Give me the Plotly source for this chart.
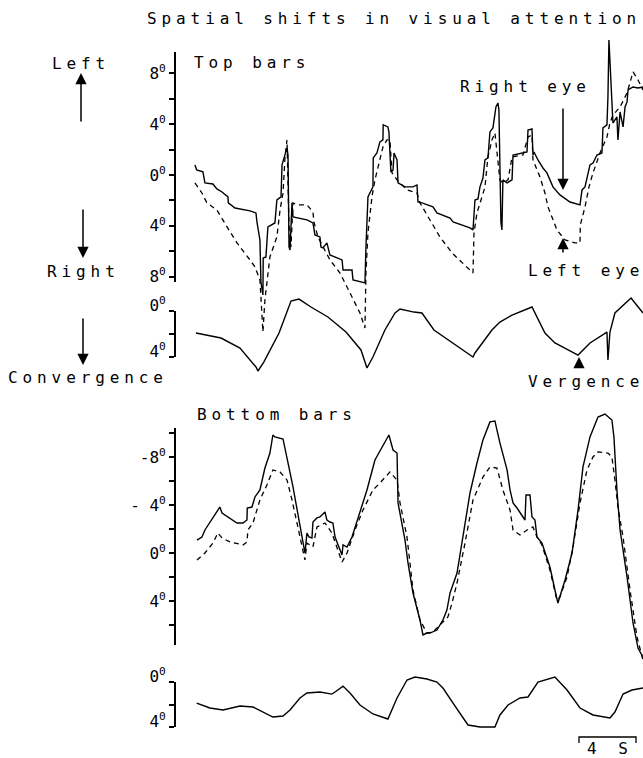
import plotly.graph_objects as go

# ---------------- data (time in s, angle in degrees) ----------------
# Top bars: horizontal eye position (+ = left)
top_right_t = [0.21,0.33,0.77,0.91,1.47,1.75,2.11,2.53,2.55,3.02,4.07,4.49,4.56,4.77,4.84,4.98,5.00,5.19,5.33,5.82,5.96,6.25,6.32,6.53,6.67,6.74,6.81,6.88,7.02,7.09,8.07,8.49,8.63,8.98,9.05,9.19,9.47,9.68,10.53,10.60,11.23,11.30,12.14,12.21,12.28,12.35,12.70,12.72,12.98,13.19,13.40,13.42,13.75,13.82,13.96,14.11,14.18,14.39,14.46,14.95,15.51,15.79,15.86,16.14,16.91,17.19,18.11,18.32,19.51,19.72,19.86,20.07,20.21,20.42,20.56,20.77,20.91,21.12,21.33,21.47,21.54,21.68,21.75,21.82,22.11,22.46,22.53,23.23,23.51,23.58,23.86,23.93,24.00,24.28,24.63,24.91,25.12,25.33,25.82,26.53,27.23,27.37,27.58,27.93,28.14,28.42,28.77,28.84,29.12,29.19,29.26,29.40,29.54,29.82,29.89,30.04,30.25,30.39,30.53,30.60,30.95,31.30,31.65]
top_right = [0.79,0.39,0.24,-0.63,-0.71,-1.10,-1.34,-1.73,-2.20,-2.60,-2.83,-2.99,-3.70,-5.12,-8.43,-9.45,-6.54,-6.46,-4.09,-3.78,-1.97,-1.73,0.79,1.57,2.13,1.57,-5.67,-5.91,-2.20,-3.31,-3.54,-3.78,-4.72,-4.88,-5.67,-5.75,-5.35,-6.30,-6.69,-7.48,-7.48,-8.27,-8.50,-5.67,-3.70,-1.73,-0.94,1.34,1.73,2.60,2.76,3.94,3.78,3.39,0.24,0.39,1.73,1.18,-0.63,-0.94,-0.94,-0.79,-2.13,-2.20,-2.52,-2.99,-3.39,-3.70,-4.17,-4.33,-1.97,-1.89,-0.94,-0.24,1.18,1.34,3.39,3.70,5.35,5.67,5.12,-3.70,-4.33,-0.39,-0.63,-0.39,1.57,1.73,1.81,3.54,3.62,1.57,1.81,1.18,0.55,0.16,-0.39,-0.94,-1.57,-2.13,-2.36,-1.18,-0.94,0.79,0.94,1.57,1.73,3.70,3.94,6.14,10.63,7.24,4.09,4.57,2.76,4.96,3.78,5.35,5.75,6.69,6.93,6.85,6.93]

top_left_t = [0.21,0.70,1.05,1.75,2.46,3.16,4.07,4.42,4.77,4.98,5.12,5.47,5.96,6.18,6.39,6.53,6.67,6.81,6.95,7.09,7.37,8.07,8.49,8.56,8.84,9.19,9.68,10.39,11.09,11.79,12.14,12.21,12.35,12.63,12.84,13.19,13.40,13.68,13.89,14.04,14.39,15.09,15.79,16.00,16.70,17.40,18.25,19.02,19.72,19.79,20.00,20.35,20.56,20.77,21.05,21.26,21.47,21.61,21.82,22.18,22.46,23.23,23.58,23.86,23.93,24.42,24.77,24.98,25.26,25.61,26.18,26.88,27.23,27.25,27.58,27.86,28.14,28.63,29.12,29.33,29.54,30.04,30.53,30.95,31.30,31.65]
top_left = [-0.63,-1.42,-2.20,-2.76,-4.09,-5.35,-6.69,-7.24,-8.27,-12.36,-9.84,-6.46,-4.88,-2.76,-1.42,1.42,2.76,-4.09,-5.67,-2.20,-2.36,-2.36,-2.91,-3.70,-4.88,-5.67,-6.69,-7.72,-9.29,-10.87,-12.05,-7.72,-4.57,-1.73,-0.39,1.18,2.20,2.76,2.76,0.16,-0.39,-1.18,-1.42,-2.20,-3.54,-4.88,-6.14,-6.93,-7.72,-4.57,-2.99,-1.73,-0.94,1.42,2.76,3.31,1.18,-0.39,-0.63,-0.39,1.42,1.57,2.99,3.15,1.18,-0.16,-1.42,-2.52,-3.31,-4.33,-5.12,-5.35,-5.35,-3.94,-2.52,-0.94,0.16,1.73,2.99,4.09,4.72,5.35,6.46,8.11,7.48,6.69]

# Top bars: vergence (+ = convergence)
top_verg_t = [0.28,2.04,3.37,4.49,4.63,5.05,6.11,6.81,6.95,7.51,8.35,9.54,10.81,11.86,12.28,12.70,13.54,14.25,14.60,15.58,16.14,16.98,18.18,19.72,19.86,21.05,21.61,22.46,23.86,24.77,25.47,27.09,27.93,29.12,29.19,29.33,29.68,30.53,30.81,31.65]
top_verg = [1.91,2.35,3.22,4.87,5.22,4.43,1.91,-0.52,-0.87,-1.04,-0.35,0.52,1.83,3.39,4.96,4.00,1.65,0.17,-0.17,0.09,0.17,1.65,2.70,4.00,3.65,1.65,0.96,0.35,-0.35,1.91,2.78,3.83,2.78,1.83,4.26,1.83,0.17,-0.78,-1.13,0.17]

# Bottom bars: horizontal eye position (- = left)
bot_right_t = [0.35,0.70,0.91,1.47,1.96,2.11,2.67,3.16,3.58,3.86,3.88,4.21,4.42,4.77,5.12,5.47,5.68,5.82,6.39,6.53,6.74,7.09,7.44,7.79,7.93,8.07,8.21,8.42,8.49,8.77,8.98,9.33,9.47,9.68,9.89,10.04,10.53,10.60,10.88,11.23,11.79,12.28,12.84,13.40,13.82,14.11,14.39,14.46,14.95,15.16,15.51,16.00,16.21,16.49,16.70,17.19,17.61,17.89,18.11,18.60,19.02,19.51,20.00,20.42,20.91,21.26,21.40,21.61,22.11,22.32,22.53,22.81,23.37,23.44,23.72,23.86,24.07,24.21,24.56,25.12,25.47,25.68,25.96,26.18,26.67,27.09,27.44,27.93,28.49,28.98,29.47,29.61,29.82,30.04,30.53,30.95,31.30,31.65]
bot_right = [-1.08,-1.33,-1.92,-3.00,-3.83,-3.33,-2.92,-2.50,-2.50,-2.75,-3.75,-3.83,-4.67,-5.25,-7.08,-8.33,-9.83,-9.67,-9.50,-8.58,-7.50,-5.50,-3.33,-1.08,0.00,-1.67,-1.33,-1.25,-2.58,-2.92,-3.00,-3.42,-2.75,-2.58,-2.50,-1.33,0.17,-0.67,-0.50,-1.33,-3.33,-5.25,-7.75,-9.00,-9.83,-8.58,-8.33,-4.17,-1.08,0.83,3.33,5.58,6.83,6.67,6.67,6.42,5.58,4.75,3.33,1.67,-1.33,-5.00,-7.50,-9.42,-10.92,-11.00,-10.25,-9.17,-6.92,-5.25,-4.17,-3.75,-2.75,-4.83,-4.83,-3.00,-2.75,-1.33,-0.83,1.17,3.08,4.17,3.08,2.25,0.00,-3.58,-7.17,-9.67,-11.33,-11.58,-11.08,-9.67,-5.25,-1.92,2.00,5.83,7.92,8.67]

bot_left_t = [0.35,0.91,1.47,1.82,2.11,2.67,3.58,3.86,3.93,4.28,4.77,5.26,5.68,6.18,6.67,7.02,7.37,7.72,7.93,8.07,8.49,8.77,9.33,9.82,10.18,10.53,10.88,11.44,12.00,12.70,13.19,13.89,14.39,14.60,15.09,15.51,16.00,16.49,16.91,17.40,17.96,18.25,18.60,19.16,19.72,20.42,20.91,21.40,21.82,22.32,22.53,23.02,23.51,23.93,24.21,24.56,25.12,25.61,25.82,26.32,26.74,27.23,27.72,28.14,28.49,29.19,29.47,29.68,29.89,30.25,30.74,31.23,31.65]
bot_left = [0.58,0.00,-0.83,-1.67,-1.25,-0.92,-0.67,-0.92,-1.92,-2.50,-4.42,-5.67,-6.92,-6.75,-6.08,-4.42,-2.50,-0.50,0.58,-0.83,-0.50,-2.17,-2.50,-1.67,-0.50,0.75,0.00,-1.92,-3.58,-5.25,-5.83,-6.75,-6.08,-4.17,-1.33,3.08,5.58,6.67,6.58,6.00,5.33,4.17,2.50,-0.83,-4.42,-6.33,-7.17,-7.08,-5.25,-3.58,-1.92,-1.50,-1.92,-2.17,-1.33,-0.67,1.42,3.92,3.67,2.00,-0.50,-4.17,-6.92,-8.00,-8.42,-8.33,-8.00,-6.08,-3.83,-1.33,3.08,7.00,8.92]

# Bottom bars: vergence
bot_verg_t = [0.33,1.26,2.18,3.37,4.28,4.98,5.68,6.39,6.88,7.58,8.07,8.98,9.82,10.04,10.60,11.09,11.79,12.70,13.40,13.75,14.39,15.09,15.65,16.49,17.19,17.61,18.32,19.37,20.21,21.26,21.61,22.18,23.02,23.58,24.28,25.47,26.32,27.23,28.14,29.33,29.68,30.25,30.88,31.65]
bot_verg = [1.87,2.31,2.49,2.13,2.22,2.67,3.11,3.02,2.49,1.42,0.98,0.89,1.07,0.89,0.36,0.98,2.04,2.84,3.11,3.29,1.42,-0.18,-0.44,-0.27,0.00,0.53,1.87,3.82,4.00,4.00,2.93,2.04,1.42,1.33,0.00,-0.44,0.71,2.31,2.93,3.20,2.67,1.07,0.71,0.53]

# tick labels
pos_ticks = [-8, -6, -4, -2, 0, 2, 4, 6, 8]
pos_text = ["8<sup>0</sup>", "", "4<sup>0</sup>", "", "0<sup>0</sup>", "", "4<sup>0</sup>", "", "8<sup>0</sup>"]
bot_ticks = [-10, -8, -6, -4, -2, 0, 2, 4, 6]
bot_text = ["", "-8<sup>0</sup>", "", "- 4<sup>0</sup>", "", "0<sup>0</sup>", "", "4<sup>0</sup>", ""]
verg_ticks = [0, 2, 4]
verg_text = ["0<sup>0</sup>", "", "4<sup>0</sup>"]
scale_seconds = 4

# ---------------- figure ----------------
W, H = 643, 758
FONT = "DejaVu Sans Mono"
FS = 16
LS = 4.9


def sp(s, ls=LS):
    return f'<span style="letter-spacing:{ls}px">{s}</span>'


def px(x, y):
    return x / W, 1 - y / H


X0 = 175 / W
TR = [-1.19, 31.65]

fig = go.Figure()
solid = dict(color="black", width=1.4)
dashed = dict(color="black", width=1.3, dash="5px,4px")

fig.add_trace(go.Scatter(x=top_right_t, y=top_right, xaxis="x", yaxis="y", mode="lines", line=solid))
fig.add_trace(go.Scatter(x=top_left_t, y=top_left, xaxis="x", yaxis="y", mode="lines", line=dashed))
fig.add_trace(go.Scatter(x=top_verg_t, y=top_verg, xaxis="x2", yaxis="y2", mode="lines", line=solid))
fig.add_trace(go.Scatter(x=bot_right_t, y=bot_right, xaxis="x3", yaxis="y3", mode="lines", line=solid))
fig.add_trace(go.Scatter(x=bot_left_t, y=bot_left, xaxis="x3", yaxis="y3", mode="lines", line=dashed))
fig.add_trace(go.Scatter(x=bot_verg_t, y=bot_verg, xaxis="x4", yaxis="y4", mode="lines", line=solid))

tickfont = dict(family=FONT, size=FS, color="black")
yax_common = dict(showgrid=False, zeroline=False, showline=False, ticks="outside",
                  ticklen=5, tickwidth=2, tickcolor="black", tickfont=tickfont,
                  tickmode="array", automargin=False)


def ydom(top_px, bot_px):
    return [1 - bot_px / H, 1 - top_px / H]


xax = dict(domain=[X0, 1], range=TR, visible=False, automargin=False)
fig.update_layout(
    width=W, height=H, autosize=False, margin=dict(l=0, r=0, t=0, b=0, pad=0),
    paper_bgcolor="white", plot_bgcolor="rgba(0,0,0,0)", showlegend=False,
    xaxis=dict(xax, anchor="y"),
    xaxis2=dict(xax, anchor="y2"),
    xaxis3=dict(xax, anchor="y3"),
    xaxis4=dict(xax, anchor="y4"),
    yaxis=dict(yax_common, domain=ydom(35, 345), range=[-13.39, 11.02], anchor="x",
               tickvals=pos_ticks, ticktext=pos_text[::-1]),
    yaxis2=dict(yax_common, domain=ydom(290, 378), range=[5.83, -1.83], anchor="x2",
                tickvals=verg_ticks, ticktext=verg_text, ticklabelshift=6),
    yaxis3=dict(yax_common, domain=ydom(405, 668), range=[9.58, -12.33], anchor="x3",
                tickvals=bot_ticks, ticktext=bot_text),
    yaxis4=dict(yax_common, domain=ydom(670, 735), range=[4.71, -1.07], anchor="x4",
                tickvals=verg_ticks, ticktext=verg_text, ticklabelshift=6),
)

axline = dict(color="black", width=2)
fig.add_shape(type="line", xref="x domain", yref="y", x0=0, x1=0, y0=-8.43, y1=9.69, line=axline)
fig.add_shape(type="line", xref="x2 domain", yref="y2", x0=0, x1=0, y0=0, y1=4, line=axline)
fig.add_shape(type="line", xref="x3 domain", yref="y3", x0=0, x1=0, y0=-10.42, y1=7.67, line=axline)
fig.add_shape(type="line", xref="x4 domain", yref="y4", x0=0, x1=0, y0=0, y1=4, line=axline)

# time scale bar
sb0 = 27.16
y_top = 1 - 737 / H
y_bot = 1 - 743 / H
fig.add_shape(type="path", xref="x4", yref="paper",
              path=f"M {sb0},{y_bot} L {sb0},{y_top} L {sb0 + scale_seconds},{y_top} L {sb0 + scale_seconds},{y_bot}",
              line=dict(color="black", width=1.3))

tfont = dict(family=FONT, size=FS, color="black")


def label(text, x, y, anchor="left"):
    xx, yy = px(x - 2, y)
    fig.add_annotation(text=sp(text), x=xx, y=yy, xref="paper", yref="paper",
                       xanchor=anchor, yanchor="middle", showarrow=False, font=tfont)


def arrow(x, y_tip, y_tail):
    xx, yy = px(x, y_tip)
    fig.add_annotation(text="", x=xx, y=yy, xref="paper", yref="paper",
                       ax=0, ay=y_tail - y_tip, showarrow=True, arrowhead=2,
                       arrowsize=1.5, arrowwidth=1.5, arrowcolor="black", standoff=0)


label("Spatial shifts in visual attention", 147, 18)
label("Left", 52, 63)
label("Right", 47, 271)
label("Convergence", 8, 377)
label("Top bars", 194, 62)
label("Right eye", 460, 86)
label("Left eye", 528, 270)
label("Vergence", 528, 381)
label("Bottom bars", 197, 414)
fig.add_annotation(text=sp(f"{scale_seconds} S", 6), x=27.6, y=1 - 748 / H, xref="x4", yref="paper",
                   xanchor="left", yanchor="middle", showarrow=False, font=tfont)

arrow(81, 73, 123)
arrow(83, 258, 208)
arrow(83, 365, 317)
arrow(563, 190, 107)
arrow(563, 238, 254)
arrow(579, 357, 368)

fig.write_html("out.html", config={"displayModeBar": False},
               post_script="document.body.style.margin='0px';")
